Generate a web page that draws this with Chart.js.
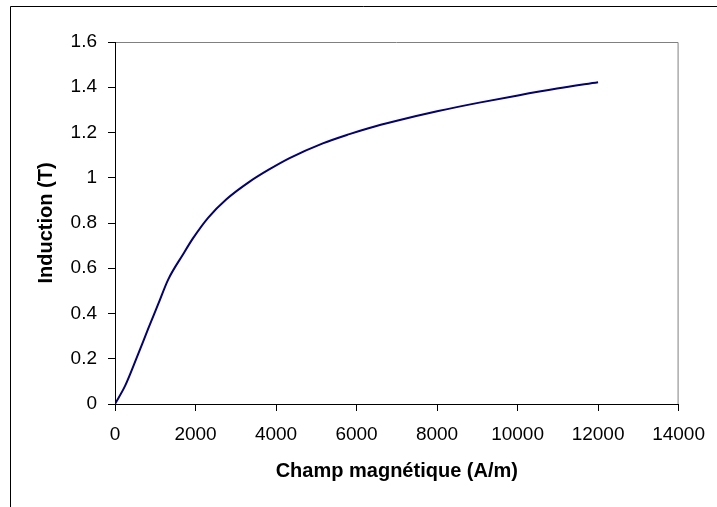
<!DOCTYPE html>
<html>
<head>
<meta charset="utf-8">
<script src="https://cdn.jsdelivr.net/npm/chart.js@4.4.0/dist/chart.umd.min.js"></script>
<style>
  body { margin: 0; background: #fff; }
  #wrap { width: 717px; height: 507px; }
</style>
</head>
<body>
<div id="wrap"><canvas id="myChart" width="717" height="507"></canvas></div>
<script>
// champ H (A/m) et induction B (T)
const fieldH = [0, 250, 540, 830, 1070, 1321, 1692, 1940, 2312, 2768, 3345, 3841, 4337, 5162, 5823, 6277, 7000, 8030, 9050, 10010, 10980, 12000];
const inductionB = [0, 0.08, 0.205, 0.335, 0.44, 0.55, 0.662, 0.733, 0.823, 0.905, 0.983, 1.038, 1.087, 1.152, 1.193, 1.218, 1.252, 1.295, 1.332, 1.364, 1.394, 1.422];

const xTicks = [0, 2000, 4000, 6000, 8000, 10000, 12000, 14000];
const yTicks = [0, 0.2, 0.4, 0.6, 0.8, 1, 1.2, 1.4, 1.6];

const points = fieldH.map((h, i) => ({ x: h, y: inductionB[i] }));

// cadre exterieur + bords haut/droite du trace
const frame = {
    id: 'frame',
    beforeDraw(chart) {
        const c = chart.ctx;
        const a = chart.chartArea;
        c.save();
        c.strokeStyle = '#000';
        c.lineWidth = 1;
        c.beginPath();
        c.moveTo(10.5, 507);
        c.lineTo(10.5, 6.5);
        c.lineTo(717, 6.5);
        c.stroke();
        c.strokeStyle = '#808080';
        c.beginPath();
        c.moveTo(a.left, a.top + 0.5);
        c.lineTo(a.right - 0.5, a.top + 0.5);
        c.lineTo(a.right - 0.5, a.bottom);
        c.stroke();
        c.restore();
    }
};

const ctx = document.getElementById('myChart').getContext('2d');
const myChart = new Chart(ctx, {
    type: 'scatter',
    data: {
        datasets: [{
            label: 'B(H)',
            data: points,
            showLine: true,
            borderColor: '#000080',
            backgroundColor: '#000080',
            borderWidth: 2,
            pointRadius: 0,
            cubicInterpolationMode: 'monotone'
        }]
    },
    options: {
        responsive: false,
        devicePixelRatio: 1,
        animation: false,
        layout: {
            padding: { top: 42, right: 37, left: 0, bottom: 0 }
        },
        scales: {
            x: {
                type: 'linear',
                min: 0,
                max: 14000,
                afterFit: s => { s.height = 103; },
                afterBuildTicks: s => { s.ticks = xTicks.map(v => ({ value: v })); },
                border: { display: true, color: '#000', width: 1 },
                grid: { drawOnChartArea: false, drawTicks: true, tickLength: 7, color: '#000' },
                ticks: {
                    color: '#000',
                    padding: 12,
                    maxRotation: 0,
                    autoSkip: false,
                    font: { family: 'Liberation Sans', size: 19 },
                    callback: v => String(v)
                },
                title: {
                    display: true,
                    text: 'Champ magnétique (A/m)',
                    color: '#000',
                    padding: { top: 24, bottom: 24 },
                    font: { family: 'Liberation Sans', size: 20, weight: 'bold' }
                }
            },
            y: {
                type: 'linear',
                min: 0,
                max: 1.6,
                afterFit: s => { s.width = 115; },
                afterBuildTicks: s => { s.ticks = yTicks.map(v => ({ value: v })); },
                border: { display: true, color: '#000', width: 1 },
                grid: { drawOnChartArea: false, drawTicks: true, tickLength: 7, color: '#000' },
                ticks: {
                    color: '#000',
                    padding: 11,
                    autoSkip: false,
                    font: { family: 'Liberation Sans', size: 19 },
                    callback: v => String(+v.toFixed(1))
                },
                title: {
                    display: true,
                    text: 'Induction (T)',
                    color: '#000',
                    padding: { top: 34, bottom: 34 },
                    font: { family: 'Liberation Sans', size: 20, weight: 'bold' }
                }
            }
        },
        plugins: {
            legend: { display: false },
            tooltip: { enabled: false }
        }
    },
    plugins: [frame]
});
</script>
</body>
</html>
